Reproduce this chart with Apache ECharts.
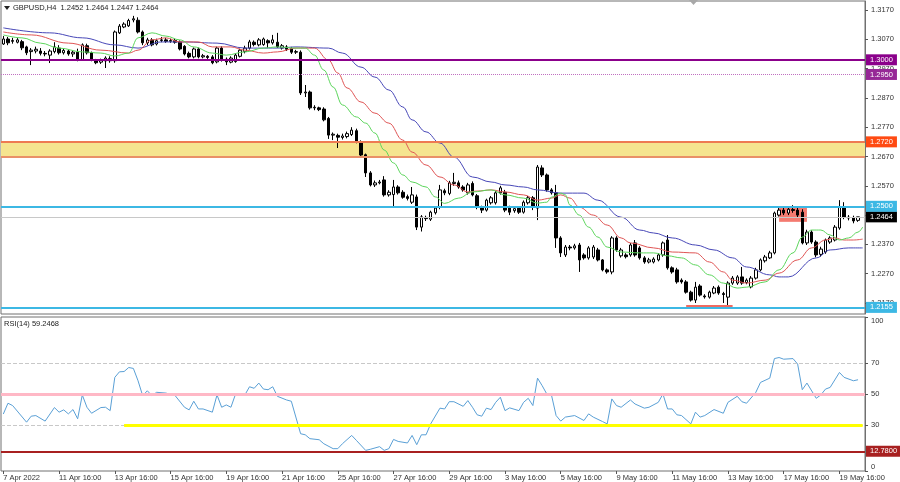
<!DOCTYPE html>
<html>
<head>
<meta charset="utf-8">
<script src="https://cdn.jsdelivr.net/npm/echarts@6/dist/echarts.min.js"></script>
<style>
html, body { margin: 0; padding: 0; background: #fff; }
#chart { width: 900px; height: 482px; }
</style>
</head>
<body>
<div id="chart"></div>
<script>
// GBPUSD H4, 7 Apr - 20 May 2022. candles: [open, close, low, high]
const candles = [
  [1.3054,1.3071,1.3051,1.3081],[1.3071,1.3058,1.3050,1.3078],[1.3063,1.3066,1.3055,1.3075],[1.3060,1.3068,1.3056,1.3074],
  [1.3062,1.3041,1.3033,1.3068],[1.3044,1.3024,1.3016,1.3048],[1.3028,1.3033,1.2982,1.3040],[1.3030,1.3036,1.3022,1.3045],
  [1.3030,1.3022,1.3015,1.3040],[1.3022,1.3020,1.3012,1.3030],[1.3016,1.3030,1.2989,1.3036],[1.3028,1.3044,1.3022,1.3060],
  [1.3040,1.3024,1.3018,1.3050],[1.3024,1.3032,1.3018,1.3040],[1.3030,1.3020,1.3014,1.3036],[1.3020,1.3026,1.3010,1.3032],
  [1.3026,1.2999,1.2995,1.3038],[1.3001,1.3051,1.2997,1.3056],[1.3048,1.3024,1.3018,1.3055],[1.3024,1.2999,1.2995,1.3028],
  [1.2999,1.2990,1.2985,1.3003],[1.2992,1.2998,1.2986,1.3004],[1.2996,1.3006,1.2972,1.3012],[1.3004,1.2997,1.2990,1.3012],
  [1.2997,1.3095,1.2990,1.3100],[1.3092,1.3115,1.3088,1.3122],[1.3112,1.3122,1.3108,1.3128],[1.3116,1.3134,1.3112,1.3140],
  [1.3136,1.3140,1.3128,1.3150],[1.3135,1.3095,1.3090,1.3145],[1.3095,1.3058,1.3050,1.3100],[1.3058,1.3068,1.3050,1.3075],
  [1.3068,1.3051,1.3046,1.3074],[1.3054,1.3065,1.3049,1.3072],[1.3066,1.3068,1.3060,1.3078],[1.3068,1.3063,1.3058,1.3075],
  [1.3063,1.3066,1.3058,1.3072],[1.3066,1.3060,1.3055,1.3072],[1.3061,1.3037,1.3032,1.3066],[1.3046,1.3020,1.3015,1.3050],
  [1.3022,1.3010,1.3005,1.3028],[1.3010,1.3037,1.3005,1.3042],[1.3037,1.3010,1.3005,1.3042],[1.3010,1.3014,1.3005,1.3020],
  [1.3012,1.3008,1.3003,1.3016],[1.3010,1.2990,1.2985,1.3016],[1.2993,1.3040,1.2988,1.3045],[1.3040,1.2999,1.2994,1.3046],
  [1.3002,1.2993,1.2982,1.3008],[1.2992,1.3006,1.2988,1.3012],[1.2994,1.3016,1.2990,1.3022],[1.3012,1.3033,1.3008,1.3038],
  [1.3028,1.3040,1.3022,1.3048],[1.3040,1.3061,1.3035,1.3068],[1.3060,1.3052,1.3046,1.3066],[1.3051,1.3068,1.3046,1.3074],
  [1.3052,1.3071,1.3048,1.3076],[1.3065,1.3058,1.3041,1.3070],[1.3058,1.3068,1.3052,1.3085],[1.3060,1.3044,1.3040,1.3092],
  [1.3040,1.3048,1.3035,1.3054],[1.3044,1.3036,1.3030,1.3050],[1.3038,1.3026,1.3020,1.3044],[1.3026,1.3028,1.3020,1.3034],
  [1.3026,1.2887,1.2880,1.3032],[1.2887,1.2890,1.2873,1.2914],[1.2890,1.2836,1.2830,1.2895],[1.2836,1.2838,1.2828,1.2845],
  [1.2836,1.2830,1.2825,1.2840],[1.2832,1.2795,1.2790,1.2838],[1.2800,1.2743,1.2730,1.2805],[1.2743,1.2746,1.2726,1.2752],
  [1.2742,1.2736,1.2699,1.2748],[1.2735,1.2740,1.2728,1.2748],[1.2738,1.2748,1.2732,1.2755],[1.2745,1.2760,1.2740,1.2770],
  [1.2758,1.2720,1.2715,1.2765],[1.2720,1.2675,1.2670,1.2725],[1.2676,1.2614,1.2600,1.2680],[1.2614,1.2573,1.2568,1.2620],
  [1.2573,1.2580,1.2566,1.2588],[1.2580,1.2583,1.2575,1.2590],[1.2590,1.2539,1.2533,1.2603],[1.2539,1.2548,1.2533,1.2555],
  [1.2540,1.2566,1.2497,1.2590],[1.2566,1.2546,1.2540,1.2572],[1.2548,1.2531,1.2526,1.2555],[1.2533,1.2527,1.2520,1.2540],
  [1.2514,1.2539,1.2508,1.2566],[1.2532,1.2429,1.2419,1.2540],[1.2429,1.2464,1.2414,1.2470],[1.2462,1.2458,1.2450,1.2468],
  [1.2456,1.2480,1.2450,1.2485],[1.2478,1.2494,1.2472,1.2500],[1.2497,1.2556,1.2490,1.2573],[1.2553,1.2546,1.2538,1.2560],
  [1.2544,1.2580,1.2538,1.2587],[1.2578,1.2582,1.2570,1.2614],[1.2580,1.2566,1.2560,1.2588],[1.2566,1.2556,1.2550,1.2572],
  [1.2546,1.2573,1.2540,1.2580],[1.2578,1.2539,1.2534,1.2585],[1.2536,1.2497,1.2490,1.2542],[1.2497,1.2487,1.2477,1.2502],
  [1.2487,1.2521,1.2482,1.2526],[1.2512,1.2529,1.2506,1.2535],[1.2512,1.2546,1.2506,1.2552],[1.2546,1.2563,1.2540,1.2570],
  [1.2548,1.2487,1.2480,1.2556],[1.2497,1.2480,1.2470,1.2502],[1.2485,1.2492,1.2478,1.2500],[1.2494,1.2480,1.2474,1.2500],
  [1.2480,1.2514,1.2475,1.2520],[1.2512,1.2529,1.2506,1.2535],[1.2529,1.2497,1.2487,1.2535],[1.2494,1.2634,1.2453,1.2641],
  [1.2631,1.2607,1.2600,1.2640],[1.2607,1.2556,1.2550,1.2612],[1.2556,1.2546,1.2540,1.2562],[1.2546,1.2392,1.2358,1.2573],
  [1.2392,1.2341,1.2327,1.2398],[1.2334,1.2361,1.2327,1.2368],[1.2361,1.2358,1.2350,1.2368],[1.2358,1.2365,1.2352,1.2372],
  [1.2368,1.2317,1.2276,1.2375],[1.2334,1.2324,1.2318,1.2340],[1.2324,1.2358,1.2318,1.2364],[1.2327,1.2361,1.2320,1.2368],
  [1.2351,1.2317,1.2312,1.2358],[1.2317,1.2283,1.2278,1.2320],[1.2283,1.2276,1.2270,1.2288],[1.2276,1.2392,1.2268,1.2398],
  [1.2392,1.2351,1.2345,1.2398],[1.2331,1.2351,1.2325,1.2358],[1.2334,1.2328,1.2322,1.2340],[1.2334,1.2368,1.2328,1.2375],
  [1.2375,1.2334,1.2328,1.2385],[1.2358,1.2324,1.2318,1.2364],[1.2324,1.2310,1.2304,1.2330],[1.2310,1.2317,1.2305,1.2324],
  [1.2310,1.2320,1.2305,1.2326],[1.2317,1.2334,1.2312,1.2340],[1.2334,1.2375,1.2328,1.2380],[1.2385,1.2290,1.2284,1.2402],
  [1.2290,1.2276,1.2270,1.2295],[1.2283,1.2242,1.2236,1.2290],[1.2248,1.2242,1.2236,1.2254],[1.2242,1.2207,1.2202,1.2248],
  [1.2207,1.2180,1.2175,1.2212],[1.2180,1.2224,1.2170,1.2242],[1.2228,1.2197,1.2192,1.2234],[1.2194,1.2191,1.2185,1.2200],
  [1.2190,1.2207,1.2185,1.2212],[1.2204,1.2221,1.2200,1.2228],[1.2224,1.2204,1.2198,1.2230],[1.2202,1.2199,1.2170,1.2208],
  [1.2190,1.2238,1.2157,1.2244],[1.2238,1.2255,1.2232,1.2262],[1.2238,1.2259,1.2232,1.2265],[1.2259,1.2238,1.2232,1.2293],
  [1.2240,1.2248,1.2234,1.2254],[1.2225,1.2255,1.2220,1.2262],[1.2255,1.2283,1.2250,1.2290],[1.2283,1.2317,1.2278,1.2322],
  [1.2314,1.2327,1.2308,1.2334],[1.2324,1.2341,1.2320,1.2348],[1.2341,1.2477,1.2336,1.2482],[1.2470,1.2487,1.2465,1.2500],
  [1.2487,1.2477,1.2470,1.2496],[1.2477,1.2490,1.2470,1.2498],[1.2489,1.2486,1.2478,1.2504],[1.2487,1.2470,1.2462,1.2495],
  [1.2480,1.2375,1.2370,1.2490],[1.2375,1.2412,1.2368,1.2420],[1.2412,1.2378,1.2372,1.2418],[1.2378,1.2334,1.2326,1.2384],
  [1.2336,1.2354,1.2328,1.2362],[1.2344,1.2385,1.2338,1.2390],[1.2378,1.2392,1.2372,1.2398],[1.2385,1.2429,1.2380,1.2436],
  [1.2426,1.2497,1.2420,1.2521],[1.2497,1.2463,1.2456,1.2514],[1.2463,1.2460,1.2452,1.2470],[1.2462,1.2450,1.2442,1.2468],
  [1.2452,1.2464,1.2447,1.2464]
];

// moving average lines: [bar index, price]
const lipsGreen = [[0,1.3085],[4,1.3075],[8,1.3057],[12,1.3040],[17,1.3027],[21,1.3023],[24,1.3013],[27,1.3023],[29,1.3075],
  [32,1.3092],[35,1.3081],[38,1.3068],[41,1.3044],[45,1.3023],[48,1.3016],[52,1.3027],[56,1.3040],[59,1.3044],[63,1.3040],
  [65,1.3040],[67,1.3016],[69,1.2965],[71,1.2907],[73,1.2846],[76,1.2805],[78,1.2784],[80,1.2750],[82,1.2692],[84,1.2648],
  [86,1.2607],[88,1.2583],[91,1.2566],[93,1.2532],[95,1.2510],[98,1.2528],[101,1.2549],[105,1.2556],[108,1.2539],[112,1.2528],
  [115,1.2511],[117,1.2514],[118,1.2531],[120,1.2545],[121,1.2539],[122,1.2504],[124,1.2470],[126,1.2429],[128,1.2395],
  [130,1.2361],[133,1.2344],[137,1.2341],[140,1.2341],[143,1.2331],[146,1.2324],[149,1.2300],[152,1.2266],[155,1.2238],
  [158,1.2221],[160,1.2224],[164,1.2242],[167,1.2283],[170,1.2341],[172,1.2395],[174,1.2419],[176,1.2419],[178,1.2402],
  [180,1.2385],[182,1.2392],[184,1.2412],[185,1.2429]];
const teethRed = [[0,1.3095],[6,1.3085],[14,1.3057],[21,1.3033],[27,1.3023],[29,1.3033],[32,1.3068],[35,1.3075],[38,1.3061],
  [42,1.3061],[45,1.3044],[49,1.3044],[52,1.3033],[56,1.3023],[59,1.3027],[63,1.3040],[67,1.3040],[70,1.2999],[72,1.2955],
  [74,1.2904],[77,1.2856],[80,1.2818],[83,1.2784],[86,1.2726],[88,1.2685],[91,1.2641],[94,1.2600],[97,1.2573],[100,1.2549],
  [102,1.2552],[105,1.2556],[108,1.2549],[112,1.2539],[115,1.2521],[118,1.2528],[120,1.2539],[122,1.2528],[124,1.2497],
  [127,1.2470],[130,1.2436],[133,1.2392],[135,1.2375],[140,1.2358],[144,1.2344],[149,1.2341],[152,1.2310],[155,1.2276],
  [157,1.2248],[160,1.2238],[164,1.2248],[167,1.2272],[171,1.2317],[174,1.2358],[177,1.2385],[179,1.2392],[181,1.2385],
  [183,1.2385],[185,1.2388]];
const jawBlue = [[0,1.3109],[10,1.3092],[17,1.3075],[24,1.3051],[29,1.3040],[34,1.3061],[39,1.3061],[46,1.3057],[52,1.3040],
  [59,1.3040],[63,1.3044],[70,1.3040],[73,1.3023],[77,1.2975],[80,1.2941],[83,1.2897],[86,1.2839],[88,1.2795],[91,1.2754],
  [94,1.2716],[97,1.2668],[101,1.2600],[105,1.2583],[108,1.2573],[112,1.2566],[115,1.2556],[120,1.2545],[125,1.2545],
  [128,1.2521],[133,1.2463],[137,1.2419],[140,1.2409],[144,1.2392],[149,1.2368],[153,1.2351],[157,1.2324],[160,1.2293],
  [165,1.2266],[167,1.2259],[169,1.2259],[175,1.2324],[178,1.2351],[182,1.2358],[185,1.2358]];

// RSI(14): [bar index, value]
const rsiValues = [[0,37],[1,44],[2,42.5],[5,31.7],[6,35.6],[7,36],[9,32.4],[11,41.2],[12,38.2],[13,39.7],[14,37.1],[15,39.9],
  [16,33.9],[17,49.4],[18,41.4],[19,37.5],[21,41.2],[22,41.4],[23,39.2],[24,60.8],[25,64.4],[26,64.6],[27,67.2],[28,66.6],
  [29,58.6],[30,48.9],[31,52.1],[32,48.9],[33,51.1],[35,50.6],[37,48.9],[39,41.4],[40,39.7],[41,45.3],[42,40.3],[43,40.3],
  [45,38.2],[46,49.4],[47,41.4],[48,42.9],[49,41.4],[50,50],[52,49.4],[53,54.7],[54,53.7],[55,57.1],[56,53.2],[57,52.8],
  [58,54.7],[59,48.5],[61,46.1],[62,45.3],[64,24.2],[65,23.5],[66,21],[68,20.3],[69,17.7],[71,14.5],[72,14.5],[73,17.7],
  [75,23.1],[76,19.9],[78,13.4],[79,14.1],[81,15.8],[82,13.4],[83,14.5],[84,20.5],[85,19.2],[87,18.2],[88,23.1],[89,17.1],
  [90,23.5],[91,23.5],[92,30.6],[94,40.8],[95,40.3],[96,45],[97,45],[99,42],[100,45.7],[101,41.4],[102,36.5],[103,35.6],
  [104,40.8],[105,39.9],[106,44.6],[107,47.9],[108,39.2],[109,41],[111,39.2],[112,44.6],[113,47.2],[114,42.5],[115,60.3],
  [116,55.4],[117,50],[118,49.4],[119,36],[120,32.4],[121,35],[123,36],[125,32.8],[126,37.1],[127,35],[129,32.1],[130,30.6],
  [131,46.8],[132,42.5],[133,41.4],[135,46.1],[136,43.5],[138,40.8],[139,41.4],[141,44.6],[142,50],[143,40.3],[144,40.3],
  [145,36.5],[146,36],[148,30.6],[149,38.2],[150,35],[151,36],[153,39.9],[155,37.5],[156,44.6],[158,48.5],[159,45],[160,44],
  [162,51.1],[163,57.5],[165,60.3],[166,73],[167,73.7],[168,72.6],[170,73],[171,69.4],[172,52.8],[173,57.1],[175,47.2],
  [176,49.4],[177,53.2],[178,54.3],[180,64],[181,60.8],[183,58.6],[184,59.2468]];

const timeLabels = ["7 Apr 2022", "11 Apr 16:00", "13 Apr 16:00", "15 Apr 16:00", "19 Apr 16:00", "21 Apr 16:00",
  "25 Apr 16:00", "27 Apr 16:00", "29 Apr 16:00", "3 May 16:00", "5 May 16:00", "9 May 16:00", "11 May 16:00",
  "13 May 16:00", "17 May 16:00", "19 May 16:00"];
const priceTicks = [1.2170, 1.2270, 1.2370, 1.2470, 1.2570, 1.2670, 1.2770, 1.2870, 1.2970, 1.3070, 1.3170];
const rsiTicks = [0, 30, 50, 70, 100];

const FONT = '"Liberation Sans", Arial, sans-serif';
const FS = 7.5;
const slots = candles.length + 1;
const categories = Array.from({ length: slots }, (_, i) => String(i));

function level(value, color, width, type, text, bg) {
  const item = { yAxis: value, lineStyle: { color, width, type } };
  item.label = text
    ? { show: true, position: 'end', distance: 1, formatter: text, color: '#fff', backgroundColor: bg,
        padding: [2, 4, 1, 4], fontSize: FS, fontFamily: FONT }
    : { show: false };
  return item;
}

function maLine(name, data, color) {
  return {
    name, type: 'line', xAxisIndex: 0, yAxisIndex: 0, data, z: 4,
    symbol: 'none', smooth: 0.4, smoothMonotone: 'x',
    lineStyle: { color, width: 1 }, silent: true,
  };
}

const chart = echarts.init(document.getElementById('chart'));

chart.setOption({
  animation: false,
  backgroundColor: '#ffffff',
  grid: [
    { left: 1, top: 1, width: 864, height: 313, show: true, borderColor: '#707070', borderWidth: 1 },
    { left: 1, top: 317, width: 864, height: 155, show: true, borderColor: '#707070', borderWidth: 1 },
  ],
  xAxis: [
    {
      type: 'category', gridIndex: 0, data: categories, boundaryGap: true,
      axisLine: { show: false }, axisTick: { show: false }, axisLabel: { show: false }, splitLine: { show: false },
    },
    {
      type: 'category', gridIndex: 1, data: categories, boundaryGap: true,
      axisLine: { show: false },
      axisTick: { show: true, interval: 11, alignWithLabel: true, length: 3, lineStyle: { color: '#555' } },
      axisLabel: {
        show: true, interval: 11, align: 'left', margin: 3, color: '#333', fontSize: FS, fontFamily: FONT,
        formatter: (v, idx) => timeLabels[idx / 12] || '',
      },
      splitLine: { show: false },
    },
  ],
  yAxis: [
    {
      type: 'value', gridIndex: 0, position: 'right', min: 1.213245, max: 1.320072, scale: true,
      axisLine: { show: true, lineStyle: { color: '#707070' } },
      axisTick: { show: true, length: 3, customValues: priceTicks, lineStyle: { color: '#555' } },
      axisLabel: {
        show: true, customValues: priceTicks, margin: 6, color: '#333', fontSize: FS, fontFamily: FONT,
        formatter: (v) => v.toFixed(4),
      },
      splitLine: { show: false },
    },
    {
      type: 'value', gridIndex: 1, position: 'right', min: 0, max: 100,
      axisLine: { show: true, lineStyle: { color: '#707070' } },
      axisTick: { show: true, length: 3, customValues: rsiTicks, lineStyle: { color: '#555' } },
      axisLabel: {
        show: true, customValues: rsiTicks, margin: 6, color: '#333', fontSize: FS, fontFamily: FONT,
        verticalAlignMinLabel: 'bottom', verticalAlignMaxLabel: 'top',
      },
      splitLine: { show: false },
    },
  ],
  graphic: [
    { type: 'polygon', shape: { points: [[4, 6], [10, 6], [7, 10]] }, style: { fill: '#222' } },
    { type: 'text', x: 13, y: 4, style: { text: 'GBPUSD,H4  1.2452 1.2464 1.2447 1.2464', fill: '#222',
      font: FS + 'px ' + FONT } },
    { type: 'polygon', shape: { points: [[689, 0], [698, 0], [693.5, 5]] }, style: { fill: '#a8a8a8' } },
    { type: 'text', x: 4, y: 320, style: { text: 'RSI(14) 59.2468', fill: '#222', font: FS + 'px ' + FONT } },
  ],
  series: [
    {
      name: 'zones', type: 'line', xAxisIndex: 0, yAxisIndex: 0, data: [], z: 1, silent: true,
      markArea: {
        silent: true,
        data: [
          [{ yAxis: 1.2720, itemStyle: { color: '#f5e48f' } }, { yAxis: 1.2670 }],
          [{ xAxis: 167, yAxis: 1.2500, itemStyle: { color: '#f47a70' } }, { xAxis: 173, yAxis: 1.2447 }],
        ],
      },
      markLine: {
        silent: true, symbol: ['none', 'none'], precision: 4,
        data: [level(1.2464, '#c8c8c8', 1, 'solid', '1.2464', '#000000')],
      },
    },
    {
      name: 'GBPUSD', type: 'candlestick', xAxisIndex: 0, yAxisIndex: 0, data: candles, z: 3,
      barWidth: 3, silent: true,
      itemStyle: { color: '#ffffff', color0: '#000000', borderColor: '#000000', borderColor0: '#000000', borderWidth: 1 },
    },
    maLine('Jaw', jawBlue, '#4848b8'),
    maLine('Teeth', teethRed, '#e05555'),
    maLine('Lips', lipsGreen, '#5cd65c'),
    {
      name: 'levels', type: 'line', xAxisIndex: 0, yAxisIndex: 0, data: [], z: 5, silent: true,
      markLine: {
        silent: true, symbol: ['none', 'none'], precision: 4,
        data: [
          level(1.3000, '#8b008b', 2, 'solid', '1.3000', '#8b008b'),
          level(1.2950, '#c070c0', 1, 'dotted', '1.2950', '#962896'),
          level(1.2720, '#ee7a52', 2, 'solid', '1.2720', '#ff4a12'),
          level(1.2670, '#e99068', 2, 'solid', null, null),
          level(1.2500, '#3cb8e4', 2, 'solid', '1.2500', '#3cb8e4'),
          level(1.2155, '#3cb8e4', 2, 'solid', '1.2155', '#3cb8e4'),
          [
            { coord: [147, 1.2162], lineStyle: { color: '#f06a60', width: 2, type: 'solid' }, label: { show: false } },
            { coord: [157, 1.2162] },
          ],
        ],
      },
    },
    {
      name: 'rsiLevels', type: 'line', xAxisIndex: 1, yAxisIndex: 1, data: [], z: 1, silent: true,
      markLine: {
        silent: true, symbol: ['none', 'none'], precision: 4,
        data: [
          level(70, '#c8c8c8', 1, 'dashed', null, null),
          level(30, '#c8c8c8', 1, 'dashed', null, null),
          level(50, '#ffb8c6', 3, 'solid', null, null),
          [
            { coord: [26, 30], lineStyle: { color: '#ffff00', width: 3, type: 'solid' }, label: { show: false } },
            { coord: [slots - 1, 30] },
          ],
          level(12.78, '#a82020', 2, 'solid', '12.7800', '#a82020'),
        ],
      },
    },
    {
      name: 'RSI(14)', type: 'line', xAxisIndex: 1, yAxisIndex: 1, data: rsiValues, z: 3, silent: true,
      symbol: 'none', lineStyle: { color: '#5aa0d6', width: 1 },
    },
  ],
});
</script>
</body>
</html>
